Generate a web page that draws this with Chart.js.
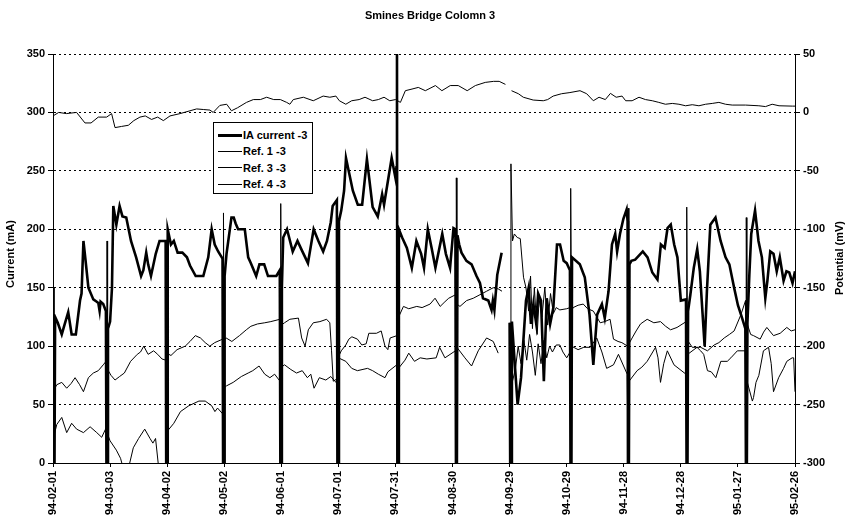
<!DOCTYPE html>
<html>
<head>
<meta charset="utf-8">
<script src="https://cdn.jsdelivr.net/npm/chart.js@4.4.1/dist/chart.umd.min.js"></script>
<style>
  body { margin: 0; background: #fff; }
  #wrap { position: relative; width: 849px; height: 521px; }
  #legend { position: absolute; left: 213px; top: 122px; width: 98px; height: 70px;
            border: 1px solid #000; background: #fff; font: bold 11px "Liberation Sans", Arial, sans-serif; }
  #legend .row { position: absolute; left: 0; height: 14px; line-height: 14px; white-space: nowrap; }
  #legend .swatch { position: absolute; left: 4px; width: 24px; background: #000; }
  #legend .txt { position: absolute; left: 29px; top: 0; }
</style>
</head>
<body>
<div id="wrap">
  <canvas id="chart" width="849" height="521"></canvas>
  <div id="legend"></div>
</div>
<script>
"use strict";

const chartTitle = 'Smines Bridge Colomn 3';
const leftTitle = 'Current (mA)';
const rightTitle = 'Potential (mV)';

// x = days since 94-02-01, ticks every 30 days
const tickLabels = ['94-02-01', '94-03-03', '94-04-02', '94-05-02', '94-06-01', '94-07-01', '94-07-31',
    '94-08-30', '94-09-29', '94-10-29', '94-11-28', '94-12-28', '95-01-27', '95-02-26'];

const seriesNames = ['IA current -3', 'Ref. 1 -3', 'Ref. 3 -3', 'Ref. 4 -3'];

// current, mA
const iaCurrent = [[0,150],[0.3,0],[0.8,0],[1.1,125],[2.5,120],[4.6,110],[6,118],[8,129],[9.8,110],[12,110],
    [14.2,139],[15,145],[16,190],[17,175],[18.6,150],[21.2,140],[23,138],[23.8,137],[24.5,130],[25,138],[26.4,136],
    [27.8,130],[28.1,0],[28.6,0],[28.9,115],[30,121],[31,150],[31.7,220],[33.3,204],[35,220],[36.5,211],[38.5,210],
    [41,190],[43.7,176],[46.3,160],[47.5,165],[49,180],[50,170],[51.5,160],[54,179],[56,190],[59.2,190],[59.5,0],
    [60,0],[60.3,200],[62,187],[63.5,190],[65.5,180],[68,180],[70.4,176],[72,169],[75,160],[79,160],[81.6,176],
    [83.4,200],[85,187],[86.8,181],[89.1,175],[89.4,0],[89.9,0],[90.2,160],[91.2,179],[93.8,210],[95,210],[96,205],
    [97.3,200],[100.8,200],[102.6,176],[104,171],[106.8,160],[108.5,170],[111,170],[113,160],[117.4,160],
    [119.2,165],[119.5,0],[120,0],[120.3,150],[121,193],[123,200],[126,181],[128.5,190],[130.5,183],[134,171],
    [137,200],[139.5,190],[142,181],[144,190],[146,206],[147,220],[149.2,225],[149.5,0],[150,0],[150.3,207],
    [151.5,216],[153,233],[154,261],[157.6,233],[160.2,221],[162.5,221],[165,260],[168,219],[170.7,211],[173,230],
    [174,221],[178,261],[180,244],[180.5,253],[180.8,350],[181,0],[181.5,0],[181.8,200],[183.5,193],[186,184],
    [188.6,167],[191,190],[193.5,179],[195,167],[197,200],[199,184],[201,167],[204.6,196],[206.5,179],[208.7,167],
    [210.5,201],[211.5,200],[211.8,0],[212.3,0],[212.6,195],[213.5,187],[214.7,180],[217.3,173],[220,170],
    [222.6,160],[224.4,154],[226,141],[228.8,139],[230.5,131],[231.2,139],[232,131],[233.5,161],[235.8,180],
    [237,null],
    [240,120],[240.3,0],[240.8,0],[241.2,121],[242.5,90],[244.2,50],[246,73],[247,99],[248.6,139],[250,150],
    [251.2,119],[252.5,136],[254,119],[255,145],[256.5,139],[258,70],[259.5,141],[261.3,119],[263,133],[264.9,187],
    [266.5,187],[268.4,173],[270,171],[271.7,165],[272,0],[272.5,0],[272.8,176],[276.9,170],[279.5,159],[282,127],
    [284,84],[286,127],[288.5,136],[290,124],[292,147],[293.8,187],[295.5,196],[296.5,181],[298,196],[299.8,209],
    [301.5,217],[302,207],[302.2,0],[302.7,0],[303,170],[304,173],[306,174],[310,181],[312.5,176],[315,163],
    [317.7,157],[319.5,187],[321.5,184],[323,201],[324.7,204],[326.5,187],[328.2,176],[330,139],[332.7,140],
    [333,0],[333.5,0],[333.8,130],[335,144],[336.8,167],[338.6,183],[340,164],[342.5,100],[343.7,147],[345.5,204],
    [348.2,210],[350.9,190],[353.5,176],[355.5,170],[358,150],[360,135],[362,125],[363.9,115],[364.2,0],[364.7,0],
    [365,120],[366,161],[367,196],[369,216],[370.8,190],[372.6,176],[374.4,141],[375.5,156],[377,181],[378.7,179],
    [380.4,164],[382,176],[384,156],[385.5,164],[387,163],[388.7,154],[390,164]];

// potentials, mV
const ref1 = [[0,-3],[3,0],[7,-1],[12.4,0],[16.8,-9],[20,-9],[23.8,-4],[28.2,-4],[30.8,-1],[32.6,-13],[36,-12],
    [39.6,-11],[42.5,-7],[45.7,-4],[48.5,-3],[51.8,-6],[55,-4],[58,-7],[61.5,-3],[66.8,-1],[72,1.4],[75.5,3],
    [79,2.5],[82.5,2],[84.2,0],[87.7,6],[91.3,7],[93.8,1.4],[97,4],[101.7,8.6],[105.3,11],[109,11],[112.3,13],
    [116,11],[119.5,11],[122.8,8.6],[124.5,7],[126.3,11],[131.6,13],[136.8,10],[142,14],[145.5,13],[148.7,14],
    [150.5,10],[153.9,7],[157,10],[160.9,11],[164,13],[168,10],[171,11],[174,13],[177,10],[180,11],[182.6,8.6],
    [185.2,18.6],[188.7,20],[192,21.4],[195.7,18.6],[201,23],[204.4,18.6],[208.8,23],[213,23],[217.7,18.6],[222,23],
    [227.2,25.7],[231.6,26.6],[234.5,26.6],[237.8,24],[239,null],
    [241,18.6],[244.6,16],[247.2,13],[252.4,10.6],[257.7,10],[260,11],[262.9,14],[267.3,16],[271.7,17],[277,18.6],
    [280.5,16],[284,10],[287,13],[290.3,11],[293,16.3],[296,13],[299.1,14],[301,10],[304.4,10],[308,13],[311.4,11],
    [315,10],[318.4,8.6],[321.9,7],[325.5,7.7],[329,7],[332.5,5.7],[336,6.6],[339.5,5.7],[343,7],[346.5,7.7],
    [350,8.6],[353.5,7],[357,6.3],[364,6.3],[371,5.7],[374.5,5],[378,7],[381.6,5.7],[388.6,5.4],[390,5.4]];

const ref3 = [[0,-239],[2,-233],[4.6,-231],[7.2,-236],[9.5,-232],[11.6,-227],[14,-233],[16,-239],[18.6,-227],
    [21.2,-223],[23.8,-221],[26.4,-216],[27.9,-213],[28.1,-300],[28.4,-110],[28.7,-220],[30.5,-225],[32.6,-229],
    [35,-226],[37.5,-223],[40.8,-213],[44.3,-207],[46,-205],[47.7,-200],[50,-207],[52.9,-204],[55,-207],[57.3,-211],
    [59.3,-212],[59.5,-300],[59.8,-206],[62,-208],[65.2,-203],[69.5,-200],[72,-196],[74.8,-191],[77.5,-193],
    [80,-197],[82.4,-200],[85,-197],[89.2,-194],[89.4,-300],[89.6,-86],[89.9,-195],[91,-193],[94,-196],[98,-191],
    [101.6,-186],[104,-183],[107.5,-181],[111.3,-180],[114.5,-179],[119.3,-177],[119.5,-300],[119.7,-78],[120,-182],
    [121.7,-180],[124.5,-177],[129,-176],[130.7,-193],[132.5,-200],[134.2,-186],[136.8,-180],[140.3,-179],
    [143.8,-177],[145.5,-180],[146.4,-204],[147.3,-230],[149.3,-228],[149.5,-300],[149.8,-210],[151.5,-204],
    [153.9,-199],[155.5,-194],[157.1,-192],[160,-194],[162.3,-199],[164.6,-198],[166,-189],[170,-189],[172.5,-187],
    [174.5,-200],[176,-203],[177.2,-193],[180.8,-191],[181,-300],[181.4,-176],[184.2,-166],[187,-168],[191.2,-166],
    [194,-167],[198.2,-164],[200.8,-159],[203.5,-166],[206,-162],[208,-159],[211.6,-156],[211.8,-300],[212,-56],
    [212.3,-164],[213.9,-166],[217.4,-161],[220.9,-159],[224.4,-156],[227.9,-153],[231.4,-150],[234,-151],
    [236,-153],[237,null],
    [240,-180],[240.4,-300],[240.7,-44],[241.5,-110],[242.5,-104],[244,-107],[245.6,-108],[247.3,-141],[248.6,-150],
    [250,-170],[251,-140],[252,-185],[253,-150],[254.5,-190],[255.5,-160],[257,-175],[258.5,-150],[260,-182],
    [261.5,-155],[263,-172],[264.5,-167],[266.4,-169],[270,-168],[271.8,-167],[272,-300],[272.2,-65],[272.5,-170],
    [273.4,-167],[276,-165],[278.7,-164],[281,-168],[284,-170],[287.6,-180],[290,-179],[292.8,-177],[294.6,-194],
    [297,-196],[299,-197],[302,-200],[302.2,-300],[302.4,-82],[302.7,-198],[304.4,-193],[306.5,-187],[308.8,-181],
    [312.3,-177],[315.8,-180],[319.3,-179],[322,-183],[324.6,-186],[328,-184],[332.8,-179],[333,-300],[333.2,-81],
    [333.5,-195],[336,-201],[340.4,-201],[344,-204],[347.5,-199],[350,-197],[352.8,-193],[355.5,-190],[358,-187],
    [361.6,-173],[364,-161],[364.2,-300],[364.4,-90],[364.7,-180],[366.7,-190],[368.2,-191],[371.7,-194],
    [373.5,-188],[375.2,-184],[378.7,-191],[382.2,-189],[385.7,-184],[388,-187],[390,-186]];

const ref4 = [[0,-300],[0.2,-279],[2,-267],[4.6,-261],[7.2,-274],[9.8,-266],[12.4,-271],[16,-274],[19.5,-269],
    [23,-274],[25.6,-278],[27.9,-270],[28.2,-300],[28.6,-275],[30,-281],[33.3,-289],[35.5,-296],[37,-305],[39.6,-305],
    [42.2,-287],[45,-279],[48.2,-271],[51,-279],[52.5,-283],[53.9,-279],[55.6,-305],[58.2,-305],[59.6,-300],
    [60,-273],[63.5,-266],[67,-256],[71.4,-251],[76.7,-247],[80,-247],[83.4,-251],[85.1,-256],[86.5,-253],[89.2,-258],
    [89.5,-300],[89.8,-236],[91.2,-234],[94.7,-231],[99,-226],[102.6,-223],[105,-221],[108.3,-217],[111.3,-224],
    [114,-227],[116.5,-224],[119.3,-230],[119.6,-300],[120,-218],[121.7,-216],[125,-220],[128,-223],[131,-221],
    [133.7,-227],[135.5,-224],[137.2,-236],[140,-227],[143.4,-229],[146,-226],[149.3,-232],[149.6,-300],[150,-210],
    [153.9,-213],[157,-219],[160,-221],[165.3,-219],[168,-221],[171,-224],[174.5,-227],[176,-222],[180.7,-216],
    [181.1,-300],[181.6,-219],[185,-212],[187,-206],[190,-213],[193,-210],[196.5,-211],[201.4,-210],[203.2,-201],
    [206,-210],[211.5,-204],[211.9,-300],[212.3,-201],[216.5,-210],[220,-217],[223.5,-204],[227.9,-193],[231.4,-196],
    [234,-206],[236,null],
    [240,-210],[240.5,-300],[241.5,-230],[243,-220],[244.5,-200],[246,-215],[247.5,-195],[249,-212],[250.5,-190],
    [252,-205],[253.5,-225],[255,-198],[256.5,-215],[258,-195],[259.5,-210],[261,-200],[262.5,-205],[264.5,-199],
    [266.4,-199],[268,-205],[270,-210],[271.8,-205],[272.1,-300],[272.5,-200],[276,-203],[279,-201],[282.3,-201],
    [285.8,-193],[288.5,-205],[291,-219],[294.6,-216],[297.2,-207],[301.8,-224],[302.3,-300],[302.8,-230],[307,-221],
    [309.5,-218],[312.3,-213],[316.7,-201],[318,-210],[319.3,-231],[321,-215],[322.9,-204],[326.4,-216],[332.7,-224],
    [333.1,-300],[333.6,-207],[338.5,-201],[340.4,-204],[342,-207],[344,-221],[346,-222],[348.4,-227],[351,-213],
    [354.4,-213],[356.3,-210],[359.7,-204],[363.9,-204],[364.3,-300],[364.8,-230],[367.6,-247],[368.2,-244],
    [369.5,-231],[371,-225],[373.4,-204],[376.1,-201],[377.5,-215],[378.7,-239],[381.4,-227],[384,-219],
    [385.7,-213],[388.5,-210],[389.3,-210],[390,-239]];

const toPoints = arr => arr.map(([x, y]) => ({ x: x, y: y }));
const FONT = '"Liberation Sans", Arial, sans-serif';

Chart.defaults.font.family = FONT;
Chart.defaults.font.size = 11;
Chart.defaults.font.weight = 'bold';
Chart.defaults.color = '#000';

const titlesPlugin = {
    id: 'titles',
    afterDraw(chart) {
        const ctx = chart.ctx;
        ctx.save();
        ctx.fillStyle = '#000';
        ctx.font = 'bold 11px ' + FONT;
        ctx.textAlign = 'center';
        ctx.textBaseline = 'middle';
        ctx.fillText(chartTitle, 430, 16);
        ctx.translate(11, 254);
        ctx.rotate(-Math.PI / 2);
        ctx.fillText(leftTitle, 0, 0);
        ctx.restore();
        ctx.save();
        ctx.fillStyle = '#000';
        ctx.font = 'bold 11px ' + FONT;
        ctx.textAlign = 'center';
        ctx.textBaseline = 'middle';
        ctx.translate(840, 258);
        ctx.rotate(-Math.PI / 2);
        ctx.fillText(rightTitle, 0, 0);
        ctx.restore();
    }
};

const seriesData = [iaCurrent, ref1, ref3, ref4];
const seriesWidth = [2.6, 1, 1, 1];

const datasets = seriesData.map((arr, i) => ({
    label: seriesNames[i],
    data: toPoints(arr),
    yAxisID: i === 0 ? 'y' : 'y2',
    borderColor: '#000',
    borderWidth: seriesWidth[i],
    pointRadius: 0,
    tension: 0,
    spanGaps: false
}));

new Chart(document.getElementById('chart'), {
    type: 'line',
    data: { datasets: datasets },
    options: {
        responsive: false,
        animation: false,
        devicePixelRatio: 1,
        layout: { padding: { top: 54, left: 0, right: 0, bottom: 0 } },
        plugins: {
            legend: { display: false },
            title: { display: false },
            tooltip: { enabled: false }
        },
        scales: {
            x: {
                type: 'linear',
                min: 0,
                max: 390,
                afterFit: s => { s.height = 58; },
                afterBuildTicks: s => { s.ticks = tickLabels.map((_, i) => ({ value: i * 30 })); },
                ticks: {
                    minRotation: 90,
                    maxRotation: 90,
                    padding: 4,
                    autoSkip: false,
                    callback: v => tickLabels[Math.round(v / 30)]
                },
                grid: { drawOnChartArea: false, drawTicks: true, tickLength: 4, color: '#000' },
                border: { color: '#000', width: 1 }
            },
            y: {
                position: 'left',
                min: 0,
                max: 350,
                afterFit: s => { s.width = 53; },
                ticks: { stepSize: 50, padding: 3 },
                grid: { color: '#000', tickLength: 5, lineWidth: 1 },
                border: { color: '#000', width: 1, dash: [2, 3] }
            },
            y2: {
                position: 'right',
                min: -300,
                max: 50,
                afterFit: s => { s.width = 54; },
                ticks: { stepSize: 50, padding: 3 },
                grid: { drawOnChartArea: false, color: '#000', tickLength: 5 },
                border: { color: '#000', width: 1 }
            }
        }
    },
    plugins: [titlesPlugin]
});

// legend box inside the plot
const legend = document.getElementById('legend');
seriesNames.forEach((name, i) => {
    const row = document.createElement('div');
    row.className = 'row';
    row.style.top = (5 + i * 16.4) + 'px';
    row.style.width = '100%';
    const sw = document.createElement('div');
    sw.className = 'swatch';
    sw.style.height = Math.max(1, Math.round(seriesWidth[i])) + 'px';
    sw.style.top = (7 - Math.round(seriesWidth[i]) / 2) + 'px';
    const txt = document.createElement('span');
    txt.className = 'txt';
    txt.textContent = name;
    row.appendChild(sw);
    row.appendChild(txt);
    legend.appendChild(row);
});
</script>
</body>
</html>
